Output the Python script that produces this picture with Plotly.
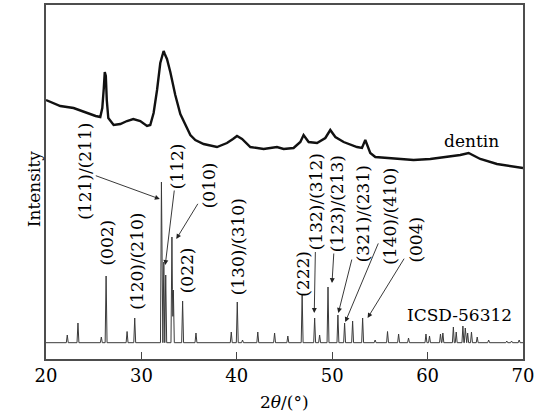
import plotly.graph_objects as go

# ---------------- data ----------------
# dentin XRD trace (2θ in degrees, intensity in a.u.)
dentin_2theta = [20.0, 21.5, 22.89, 24.3, 25.2, 25.69, 25.9, 26.06, 26.16, 26.27, 26.37, 26.53,
                 27.09, 27.79, 28.49, 29.15, 29.88, 30.59, 30.93, 31.28, 31.64, 31.98, 32.16,
                 32.33, 32.45, 32.68, 33.03, 33.55, 34.08, 34.6, 35.13, 35.65, 36.52, 37.92, 38.97,
                 39.6, 40.02, 40.55, 41.42, 42.81, 43.86, 44.21, 44.91, 45.95, 46.66, 47.0,
                 47.53, 48.41, 49.28, 49.8, 50.33, 51.2, 52.6, 53.12, 53.47, 53.99, 54.52,
                 55.74, 57.14, 58.53, 60.28, 62.03, 63.42, 64.3, 65.52, 67.27, 69.01, 70.0]
dentin_int = [259, 253, 251, 246, 243, 242, 251, 271, 287, 283, 259, 241,
              234, 235, 238, 240, 238, 233, 234, 246, 269, 296, 303,
              308, 305, 300, 287, 264, 245, 234, 224, 219, 215, 212, 216,
              220, 223, 220, 212, 210, 211, 212, 210, 211, 217, 224,
              217, 216, 221, 229, 222, 217, 212, 211, 219, 206, 202,
              201, 200, 199, 200, 202, 204, 206, 200, 195, 192, 191]

# ICSD-56312 reference pattern: peak positions (2θ) and peak intensities (a.u.)
icsd_pos = [22.23, 23.35, 25.8, 26.3, 28.5, 29.3, 32.1, 32.35, 32.55, 33.2, 33.35, 34.32,
            35.72, 39.42, 40.05, 40.6, 42.2, 43.96, 45.35, 46.85, 48.16, 48.68, 49.56,
            50.6, 51.3, 52.14, 53.19, 54.5, 55.8, 56.96, 58.0, 59.83, 60.2, 61.35, 61.6,
            62.7, 63.0, 63.7, 63.95, 64.2, 64.6, 65.2, 66.4, 68.3, 68.8, 69.6]
icsd_int = [24, 36, 22, 83, 27.5, 41, 177, 97, 84, 122, 69, 58,
            26, 27, 57, 19, 27, 26, 23, 64, 41, 24, 72,
            44, 36, 38, 41, 19, 27.5, 25, 21, 25, 23, 25, 26,
            32, 27, 33, 31, 26, 27, 22, 19, 18, 18, 19]
icsd_base = 16.3

# Miller-index labels
arrow_labels = ["(121)/(211)", "(112)", "(010)", "(132)/(312)", "(123)/(213)",
                "(321)/(231)", "(140)/(410)", "(004)"]
arrow_tip_2theta = [31.93, 32.5, 33.66, 48.12, 49.98, 50.64, 51.37, 53.71]
arrow_tip_int = [160, 94, 120, 46, 76, 46, 37, 41]

plain_labels = ["(002)", "(120)/(210)", "(022)", "(130)/(310)", "(222)"]
plain_2theta = [26.29, 29.54, 34.81, 40.16, 46.92]
plain_int = [116.5, 97.3, 89, 112, 85]

x_ticks = [20, 30, 40, 50, 60, 70]

# ---------------- layout helpers ----------------
FONT = "DejaVu Serif"
FS = 17
arrow_offsets = [(-75.5, -27.5), (12, -99), (33, -54), (2, -111), (4.8, -79.5),
                 (25, -99), (44.5, -106), (48, -78)]

# build the stick-pattern polyline from the peak list
hw = 0.1
xs = sorted(set([20.0, 70.0] + [p + d for p in icsd_pos for d in (-hw, 0.0, hw)]))
def profile(x):
    v = icsd_base
    for p, h in zip(icsd_pos, icsd_int):
        d = abs(x - p)
        if d < hw:
            v = max(v, icsd_base + (h - icsd_base) * (1 - d / hw))
    return v
ys = [profile(x) for x in xs]

fig = go.Figure()
fig.add_trace(go.Scatter(x=xs, y=ys, mode="lines",
                         line=dict(color="#3a3a3a", width=1), hoverinfo="skip"))
fig.add_trace(go.Scatter(x=dentin_2theta, y=dentin_int, mode="lines",
                         line=dict(color="#111111", width=2.4), hoverinfo="skip"))

ann = []
for t, x, y, (ax, ay) in zip(arrow_labels, arrow_tip_2theta, arrow_tip_int, arrow_offsets):
    ann.append(dict(x=x, y=y, xref="x", yref="y", text=t, textangle=-90,
                    showarrow=True, ax=ax, ay=ay, arrowhead=2, arrowsize=1.1,
                    arrowwidth=0.9, arrowcolor="#222", standoff=0,
                    font=dict(family=FONT, size=FS, color="black")))
for t, x, y in zip(plain_labels, plain_2theta, plain_int):
    ann.append(dict(x=x, y=y, xref="x", yref="y", text=t, textangle=-90,
                    showarrow=False, font=dict(family=FONT, size=FS, color="black")))
ann.append(dict(x=64.58, y=218, xref="x", yref="y", text="dentin", showarrow=False,
                font=dict(family=FONT, size=FS, color="black")))
ann.append(dict(x=63.33, y=44, xref="x", yref="y", text="ICSD-56312", showarrow=False,
                font=dict(family=FONT, size=FS, color="black")))
ann.append(dict(x=-0.05, y=0.48, xref="paper", yref="paper", text="Intensity",
                textangle=-90, showarrow=False,
                font=dict(family=FONT, size=FS, color="black")))
ann.append(dict(x=0.5, y=-0.122, xref="paper", yref="paper", text="2<i>θ</i>/(°)",
                showarrow=False, yanchor="middle",
                font=dict(family=FONT, size=FS, color="black")))

fig.update_layout(
    width=542, height=415,
    margin=dict(l=46, r=19, t=5, b=56, autoexpand=False),
    paper_bgcolor="white", plot_bgcolor="white",
    showlegend=False,
    annotations=ann,
    xaxis=dict(range=[20, 70], tickvals=x_ticks, ticktext=[str(v) for v in x_ticks],
               ticks="inside", ticklen=7, tickwidth=1.2, tickcolor="#444",
               showline=True, linecolor="#4d4d4d", linewidth=1.6, mirror=True,
               showgrid=False, zeroline=False, automargin=False,
               tickfont=dict(family=FONT, size=18, color="black")),
    yaxis=dict(range=[0, 354], showticklabels=False, ticks="",
               showline=True, linecolor="#4d4d4d", linewidth=1.6, mirror=True,
               showgrid=False, zeroline=False, automargin=False),
)

fig.write_html("out.html",
               config={"displayModeBar": False},
               post_script="document.body.style.margin='0';"
                           "document.body.style.padding='0';"
                           "document.body.style.overflow='hidden';")
